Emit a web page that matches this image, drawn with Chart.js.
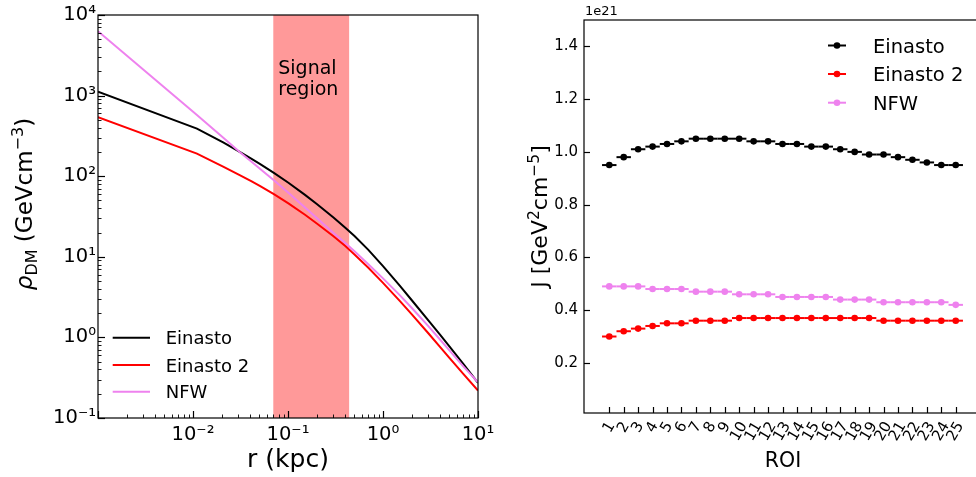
<!DOCTYPE html>
<html>
<head>
<meta charset="utf-8">
<script src="https://cdn.jsdelivr.net/npm/chart.js@4.4.1/dist/chart.umd.min.js"></script>
<style>
  html, body { margin: 0; padding: 0; background: #fff; overflow: hidden; }
  #wrap { position: relative; width: 976px; height: 477px; overflow: hidden; }
  #rhoChart { position: absolute; left: 0; top: 0; width: 520px; height: 477px; }
  #jChart { position: absolute; left: 520px; top: 0; width: 470px; height: 477px; }
</style>
</head>
<body>
<div id="wrap">
  <canvas id="rhoChart" width="520" height="477"></canvas>
  <canvas id="jChart" width="470" height="477"></canvas>
</div>
<script>
/* ---------- DATA: density profiles (left) ---------- */
const radius = [0.001, 0.011, 0.021, 0.031, 0.041, 0.051, 0.071, 0.101, 0.151, 0.201, 0.301,
                0.401, 0.501, 0.701, 1.0, 1.5, 2, 3, 4, 5, 7, 10];
const rhoEinasto = [1115, 390, 261, 200, 165, 141, 110, 83, 58.7, 45.2, 30.8,
                    23.0, 18.1, 12.2, 7.67, 4.38, 2.91, 1.63, 1.075, 0.774, 0.469, 0.273];
const rhoEinasto2 = [541, 191, 130.4, 103.2, 86.8, 75.3, 59.9, 46.0, 33.2, 25.9, 18.0,
                     13.6, 10.7, 7.31, 4.75, 2.84, 1.945, 1.125, 0.759, 0.557, 0.353, 0.219];
const rhoNFW = [6280, 575, 298, 200, 152, 123, 89, 62.4, 41, 30.2, 19.8,
                14.8, 11.75, 8.1, 5.4, 3.35, 2.33, 1.38, 0.935, 0.69, 0.437, 0.278];
const signalRegion = [0.07, 0.44];
const rTicks = [0.01, 0.1, 1, 10];
const rTickLabels = ["10⁻²", "10⁻¹", "10⁰", "10¹"];
const rhoTicks = [0.1, 1, 10, 100, 1000, 10000];
const rhoTickLabels = ["10⁻¹", "10⁰", "10¹", "10²", "10³", "10⁴"];

/* ---------- DATA: J-factors per ROI (right), units of 1e21 ---------- */
const roi = [1, 2, 3, 4, 5, 6, 7, 8, 9, 10, 11, 12, 13, 14, 15, 16, 17, 18, 19, 20, 21, 22, 23, 24, 25];
const jEinasto = [0.95, 0.98, 1.01, 1.02, 1.03, 1.04, 1.05, 1.05, 1.05, 1.05, 1.04, 1.04, 1.03,
                  1.03, 1.02, 1.02, 1.01, 1.00, 0.99, 0.99, 0.98, 0.97, 0.96, 0.95, 0.95];
const jEinasto2 = [0.30, 0.32, 0.33, 0.34, 0.35, 0.35, 0.36, 0.36, 0.36, 0.37, 0.37, 0.37, 0.37,
                   0.37, 0.37, 0.37, 0.37, 0.37, 0.37, 0.36, 0.36, 0.36, 0.36, 0.36, 0.36];
const jNFW = [0.49, 0.49, 0.49, 0.48, 0.48, 0.48, 0.47, 0.47, 0.47, 0.46, 0.46, 0.46, 0.45,
              0.45, 0.45, 0.45, 0.44, 0.44, 0.44, 0.43, 0.43, 0.43, 0.43, 0.43, 0.42];
const jTicks = [0.2, 0.4, 0.6, 0.8, 1.0, 1.2, 1.4];
const roiHalfWidth = 0.5;

const FONT = "'DejaVu Sans', sans-serif";
const COL_EIN = "#000000", COL_EIN2 = "#ff0000", COL_NFW = "#ee82ee";

Chart.defaults.font.family = FONT;
Chart.defaults.color = "#000";

/* ---------- HELPERS ---------- */
function drawRich(ctx, parts, cx, cy, rotate) {
  // parts: [text, fontSize, baselineShiftUp, italic]
  ctx.save();
  ctx.translate(cx, cy);
  if (rotate) ctx.rotate(-Math.PI / 2);
  let total = 0;
  parts.forEach(p => {
    ctx.font = (p[3] ? "italic " : "") + p[1] + "px " + FONT;
    total += ctx.measureText(p[0]).width;
  });
  let x = -total / 2;
  ctx.textBaseline = "alphabetic";
  ctx.textAlign = "left";
  ctx.fillStyle = "#000";
  parts.forEach(p => {
    ctx.font = (p[3] ? "italic " : "") + p[1] + "px " + FONT;
    ctx.fillText(p[0], x, -p[2]);
    x += ctx.measureText(p[0]).width;
  });
  ctx.restore();
}

function logTicks(ctx, scale, area, horizontal) {
  const lo = Math.floor(Math.log10(scale.min) + 1e-9);
  const hi = Math.ceil(Math.log10(scale.max) - 1e-9);
  for (let d = lo; d <= hi; d++) {
    for (let m = 1; m <= 9; m++) {
      const v = m * Math.pow(10, d);
      if (v < scale.min * 0.999 || v > scale.max * 1.001) continue;
      const p = Math.round(scale.getPixelForValue(v)) + 0.5;
      const len = m === 1 ? 7 : 3.5;
      ctx.lineWidth = m === 1 ? 1.2 : 0.9;
      ctx.beginPath();
      if (horizontal) { ctx.moveTo(p, area.bottom); ctx.lineTo(p, area.bottom - len); }
      else { ctx.moveTo(area.left, p); ctx.lineTo(area.left + len, p); }
      ctx.stroke();
    }
  }
}

/* ---------- LEFT: DENSITY PROFILES ---------- */
const rhoDecor = {
  id: "rhoDecor",
  beforeDatasetsDraw(chart) {
    const { ctx, chartArea: a, scales: { x } } = chart;
    const x0 = x.getPixelForValue(signalRegion[0]);
    const x1 = x.getPixelForValue(signalRegion[1]);
    ctx.save();
    ctx.fillStyle = "rgba(255,0,0,0.4)";
    ctx.fillRect(x0, a.top, x1 - x0, a.bottom - a.top);
    ctx.restore();
  },
  afterDatasetsDraw(chart) {
    const { ctx, chartArea: a, scales: { x, y } } = chart;
    const x0 = x.getPixelForValue(signalRegion[0]);
    ctx.save();
    ctx.fillStyle = "#000";
    ctx.font = "19px " + FONT;
    ctx.textAlign = "left";
    ctx.textBaseline = "alphabetic";
    ctx.fillText("Signal", x0 + 5, 74);
    ctx.fillText("region", x0 + 5, 95);

    ctx.strokeStyle = "#000";
    logTicks(ctx, x, a, true);
    logTicks(ctx, y, a, false);
    ctx.lineWidth = 1.2;
    ctx.strokeRect(a.left, a.top, a.right - a.left, a.bottom - a.top);

    // legend
    const rows = [["Einasto", COL_EIN, 337.7], ["Einasto 2", COL_EIN2, 365], ["NFW", COL_NFW, 391.7]];
    ctx.font = "18px " + FONT;
    rows.forEach(r => {
      ctx.strokeStyle = r[1];
      ctx.lineWidth = 2;
      ctx.beginPath();
      ctx.moveTo(112.7, r[2]);
      ctx.lineTo(150, r[2]);
      ctx.stroke();
      ctx.fillText(r[0], 165.7, r[2] + 6.6);
    });

    // axis titles
    ctx.font = "25px " + FONT;
    ctx.textAlign = "center";
    ctx.fillText("r (kpc)", (a.left + a.right) / 2, 467);
    ctx.restore();
    drawRich(ctx, [["ρ", 23, 0, true], ["DM", 16, -5], [" (GeVcm", 23, 0], ["−3", 16, 9.5], [")", 23, 0]],
      32, 204, true);
  }
};

new Chart(document.getElementById("rhoChart"), {
  type: "line",
  data: {
    datasets: [
      { label: "Einasto", data: radius.map((r, i) => ({ x: r, y: rhoEinasto[i] })),
        borderColor: COL_EIN, borderWidth: 2, pointRadius: 0, order: 2 },
      { label: "Einasto 2", data: radius.map((r, i) => ({ x: r, y: rhoEinasto2[i] })),
        borderColor: COL_EIN2, borderWidth: 2, pointRadius: 0, order: 1 },
      { label: "NFW", data: radius.map((r, i) => ({ x: r, y: rhoNFW[i] })),
        borderColor: COL_NFW, borderWidth: 2, pointRadius: 0, order: 0 }
    ]
  },
  options: {
    responsive: false,
    animation: false,
    events: [],
    layout: { padding: { left: 0, right: 42, top: 15, bottom: 0 } },
    plugins: { legend: { display: false }, tooltip: { enabled: false } },
    scales: {
      x: {
        type: "logarithmic", min: 0.001, max: 10,
        grid: { display: false, drawTicks: false }, border: { display: false },
        afterBuildTicks: s => { s.ticks = rTicks.map(v => ({ value: v })); },
        afterFit: s => { s.height = 59; },
        ticks: { autoSkip: false, maxRotation: 0, padding: 5, font: { size: 19.5 },
                 callback: (v, i) => rTickLabels[i] }
      },
      y: {
        type: "logarithmic", min: 0.1, max: 10000,
        grid: { display: false, drawTicks: false }, border: { display: false },
        afterBuildTicks: s => { s.ticks = rhoTicks.map(v => ({ value: v })); },
        afterFit: s => { s.width = 98; },
        ticks: { autoSkip: false, padding: 2, font: { size: 19.5 },
                 callback: (v, i) => rhoTickLabels[i] }
      }
    }
  },
  plugins: [rhoDecor]
});

/* ---------- RIGHT: J-FACTORS ---------- */
const jDecor = {
  id: "jDecor",
  beforeDatasetsDraw(chart) {
    const { ctx, scales: { x, y } } = chart;
    ctx.save();
    chart.data.datasets.forEach(ds => {
      ctx.strokeStyle = ds.backgroundColor;
      ctx.lineWidth = 2;
      ds.data.forEach(p => {
        const py = y.getPixelForValue(p.y);
        ctx.beginPath();
        ctx.moveTo(x.getPixelForValue(p.x - roiHalfWidth), py);
        ctx.lineTo(x.getPixelForValue(p.x + roiHalfWidth), py);
        ctx.stroke();
      });
    });
    ctx.restore();
  },
  afterDatasetsDraw(chart) {
    const { ctx, chartArea: a, scales: { x, y } } = chart;
    ctx.save();
    ctx.strokeStyle = "#000";
    ctx.lineWidth = 1.2;
    roi.forEach(v => {
      const p = Math.round(x.getPixelForValue(v)) + 0.5;
      ctx.beginPath(); ctx.moveTo(p, a.bottom); ctx.lineTo(p, a.bottom - 6); ctx.stroke();
    });
    jTicks.forEach(v => {
      const p = Math.round(y.getPixelForValue(v)) + 0.5;
      ctx.beginPath(); ctx.moveTo(a.left, p); ctx.lineTo(a.left + 6, p); ctx.stroke();
    });
    ctx.strokeRect(a.left, a.top, a.right - a.left, a.bottom - a.top);

    // rotated ROI labels, centred under each tick
    const fs = 15, ang = Math.PI / 3;
    ctx.font = fs + "px " + FONT;
    ctx.fillStyle = "#000";
    ctx.textAlign = "center";
    ctx.textBaseline = "middle";
    roi.forEach(v => {
      const t = String(v);
      const w = ctx.measureText(t).width, h = fs * 1.16;
      const bh = w * Math.sin(ang) + h * Math.cos(ang);
      ctx.save();
      ctx.translate(x.getPixelForValue(v), a.bottom + 6 + bh / 2);
      ctx.rotate(-ang);
      ctx.fillText(t, 0, 0);
      ctx.restore();
    });

    ctx.textBaseline = "alphabetic";
    ctx.font = "20.5px " + FONT;
    ctx.fillText("ROI", (a.left + 461) / 2 + 0.5, 466.5);

    ctx.textAlign = "left";
    ctx.font = "13px " + FONT;
    ctx.fillText("1e21", a.left + 1, 15);

    // legend
    const rows = [["Einasto", COL_EIN, 45.5], ["Einasto 2", COL_EIN2, 74], ["NFW", COL_NFW, 102.7]];
    ctx.font = "19.5px " + FONT;
    rows.forEach(r => {
      ctx.strokeStyle = r[1];
      ctx.fillStyle = r[1];
      ctx.lineWidth = 2;
      ctx.beginPath();
      ctx.moveTo(308, r[2]);
      ctx.lineTo(326, r[2]);
      ctx.stroke();
      ctx.beginPath();
      ctx.arc(317, r[2], 3.3, 0, Math.PI * 2);
      ctx.fill();
      ctx.fillStyle = "#000";
      ctx.fillText(r[0], 353, r[2] + 7.1);
    });
    ctx.restore();
    drawRich(ctx, [["J [GeV", 22, 0], ["2", 15.5, 8.5], ["cm", 22, 0], ["−5", 15.5, 8.5], ["]", 22, 0]],
      27, (a.top + a.bottom) / 2, true);
  }
};

function roiPoints(vals) {
  return roi.map((r, i) => ({ x: r, y: vals[i] }));
}

new Chart(document.getElementById("jChart"), {
  type: "scatter",
  data: {
    datasets: [
      { label: "Einasto", data: roiPoints(jEinasto), backgroundColor: COL_EIN, pointRadius: 3.3, pointBorderWidth: 0 },
      { label: "Einasto 2", data: roiPoints(jEinasto2), backgroundColor: COL_EIN2, pointRadius: 3.3, pointBorderWidth: 0 },
      { label: "NFW", data: roiPoints(jNFW), backgroundColor: COL_NFW, pointRadius: 3.3, pointBorderWidth: 0 }
    ]
  },
  options: {
    responsive: false,
    animation: false,
    events: [],
    layout: { padding: { left: 0, right: 9, top: 20, bottom: 0 } },
    plugins: { legend: { display: false }, tooltip: { enabled: false } },
    scales: {
      x: {
        type: "linear", min: -0.75, max: 26.75,
        grid: { display: false, drawTicks: false }, border: { display: false },
        afterBuildTicks: s => { s.ticks = roi.map(v => ({ value: v })); },
        afterFit: s => { s.height = 64; },
        ticks: { display: false }
      },
      y: {
        type: "linear", min: 0.01, max: 1.5,
        grid: { display: false, drawTicks: false }, border: { display: false },
        afterBuildTicks: s => { s.ticks = jTicks.map(v => ({ value: v })); },
        afterFit: s => { s.width = 64; },
        ticks: { padding: 6, font: { size: 15 }, callback: v => v.toFixed(1) }
      }
    }
  },
  plugins: [jDecor]
});
</script>
</body>
</html>
